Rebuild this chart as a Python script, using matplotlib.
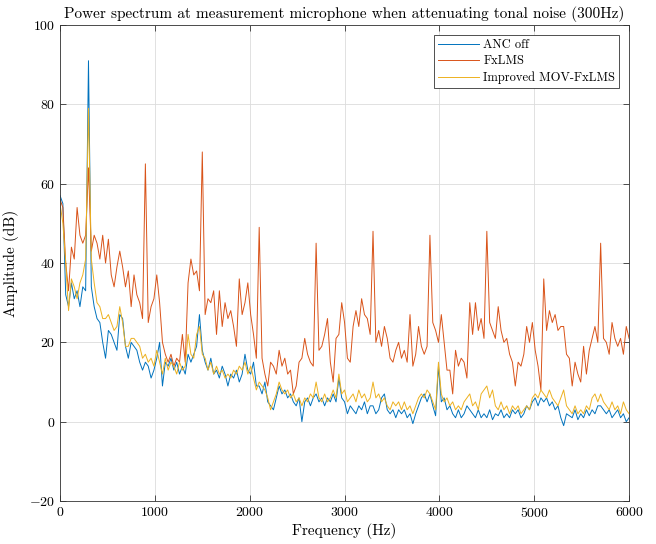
import numpy as np
import matplotlib
matplotlib.use('Agg')
import matplotlib.pyplot as plt

plt.rcParams['font.family'] = 'serif'
plt.rcParams['font.serif'] = ['cmr10']
plt.rcParams['mathtext.fontset'] = 'cm'
plt.rcParams['axes.formatter.use_mathtext'] = True

# frequency grid (Hz), 30 Hz steps
freq = np.arange(0, 6001, 30)

# ANC off
anc_off = [
    57, 55, 32, 29, 35, 31, 33, 29, 34, 33,
    91, 34, 29, 26, 25, 20, 16, 23, 22, 20,
    18, 27, 26, 19, 16, 20, 19, 18, 15, 13,
    15, 14, 11, 13, 16, 20, 9, 15, 14, 16,
    13, 15, 12, 14, 12, 17, 15, 17, 19, 27,
    18, 15, 13, 16, 12, 13, 11, 14, 12, 9,
    12, 11, 13, 10, 12, 17, 13, 12, 15, 9,
    9, 7, 10, 5, 4, 3, 6, 9, 7, 8,
    6, 7, 5, 4, 6, 0, 5, 6, 4, 6,
    7, 5, 6, 4, 6, 5, 7, 5, 11, 6,
    5, 2, 4, 3, 2, 4, 3, 5, 2, 4,
    4, 2, 3, 6, 7, 3, 2, 3, 1, 3,
    2, 3, 1, 2, -0.5, 2, 4, 6, 7, 5,
    7, 4, 1.5, 14, 5, 6, 3, 4, 2, 1,
    3, 1, 2, 4, 3, 2, 1, 3, 1, 2,
    1, 3, 0.5, 2, 1.5, 3, 1, 2, 1, 3,
    2, 3, 1, 2, 4, 3, 5, 6, 4, 6,
    5, 6, 4, 5, 3, 4, 1, -1, 2, 1.5,
    1, 3, 0.5, 2, 1, 3, 1.5, 3, 2, 4,
    4, 3, 2, 3, 1, 2, 3, 1, 2, 0,
    1,
]

# FxLMS
fxlms = [
    56, 54, 40, 33, 44, 41, 54, 47, 45, 47,
    64, 43, 47, 45, 41, 47, 40, 46, 37, 34,
    39, 43, 39, 34, 38, 29, 37, 32, 30, 26,
    65, 25, 29, 31, 37, 30, 20, 17, 15, 17,
    14, 16, 15, 22, 15, 35, 41, 37, 38, 33,
    68, 27, 31, 30, 33, 22, 33, 24, 30, 26,
    28, 24, 19, 36, 27, 30, 35, 27, 22, 16,
    49, 16, 12, 9, 15, 14, 12, 18, 14, 16,
    12, 13, 7, 9, 15, 16, 21, 17, 15, 14,
    45, 18, 19, 22, 26, 15, 10, 21, 22, 30,
    25, 16, 15, 24, 28, 24, 31, 27, 26, 22,
    48, 20, 23, 19, 24, 21, 16, 15, 18, 20,
    16, 18, 15, 27, 14, 17, 24, 19, 17, 19,
    47, 25, 23, 20, 27, 20, 13, 13, 7, 18,
    14, 16, 15, 11, 30, 22, 30, 23, 26, 21,
    48, 25, 23, 21, 29, 23, 20, 21, 17, 15,
    9, 15, 14, 17, 24, 20, 25, 18, 14, 8,
    36, 23, 28, 25, 27, 23, 24, 24, 17, 16,
    9, 15, 12, 10, 19, 12, 18, 21, 24, 20,
    45, 21, 20, 17, 25, 21, 19, 21, 17, 24,
    21,
]

# Improved MOV-FxLMS
mov_fxlms = [
    55, 50, 40, 28, 36, 34, 31, 35, 37, 41,
    79, 41, 35, 30, 29, 26, 26, 27, 25, 23,
    24, 29, 25, 19, 19, 21, 21, 20, 19, 16,
    17, 15, 16, 14, 18, 15, 12, 16, 13, 15,
    14, 12, 15, 13, 14, 22, 17, 16, 22, 24,
    17, 16, 13, 15, 12, 14, 12, 13, 11, 12,
    11, 13, 12, 14, 13, 15, 12, 14, 11, 8,
    10, 9, 8, 6, 3, 5, 7, 10, 8, 7,
    8, 6, 7, 5, 6, 4, 6, 5, 7, 6,
    10, 6, 5, 7, 5, 6, 8, 6, 12, 7,
    8, 5, 6, 7, 5, 8, 6, 7, 5, 6,
    10, 6, 7, 5, 6, 4, 3, 5, 4, 5,
    3, 5, 3, 4, 2, 4, 6, 7, 6, 8,
    7, 5, 3, 15, 7, 5, 6, 4, 5, 3,
    4, 3, 5, 6, 7, 4, 5, 3, 7, 8,
    9, 6, 8, 4, 3, 5, 3, 4, 2, 4,
    3, 4, 2, 3, 4, 3, 6, 7, 6, 8,
    7, 6, 8, 6, 5, 4, 6, 8, 4, 3,
    2, 4, 2, 3, 2, 4, 3, 6, 7, 5,
    7, 5, 4, 3, 5, 3, 4, 2, 5, 3,
    2,
]

fig = plt.figure(figsize=(6.56, 5.44), dpi=100)
ax = fig.add_axes([0.0915, 0.079, 0.8675, 0.875])

ax.plot(freq, anc_off, color='#0072BD', linewidth=0.7, label='ANC off')
ax.plot(freq, fxlms, color='#D95319', linewidth=0.7, label='FxLMS')
ax.plot(freq, mov_fxlms, color='#EDB120', linewidth=0.7, label='Improved MOV-FxLMS')

ax.set_xlim(0, 6000)
ax.set_ylim(-20, 100)
ax.set_xticks(np.arange(0, 6001, 1000))
ax.set_yticks(np.arange(-20, 101, 20))
ax.grid(True, color='#dcdcdc', linewidth=0.6)
ax.set_axisbelow(True)
ax.tick_params(direction='in', top=True, right=True, labelsize=10, length=4,
               color='#333333', width=0.6)
for s in ax.spines.values():
    s.set_color('#333333')
    s.set_linewidth(0.6)

ax.set_title('Power spectrum at measurement microphone when attenuating tonal noise (300Hz)',
             fontsize=11, pad=5)
ax.set_xlabel('Frequency (Hz)', fontsize=11, labelpad=2)
ax.set_ylabel('Amplitude (dB)', fontsize=11, labelpad=7)

leg = ax.legend(loc='upper right', fontsize=9, fancybox=False, framealpha=1,
                edgecolor='#333333', handlelength=3.3, borderpad=0.3,
                labelspacing=0.35, handletextpad=0.35, borderaxespad=0.8)
leg.get_frame().set_linewidth(0.6)

fig.savefig('out.png', dpi=100)
